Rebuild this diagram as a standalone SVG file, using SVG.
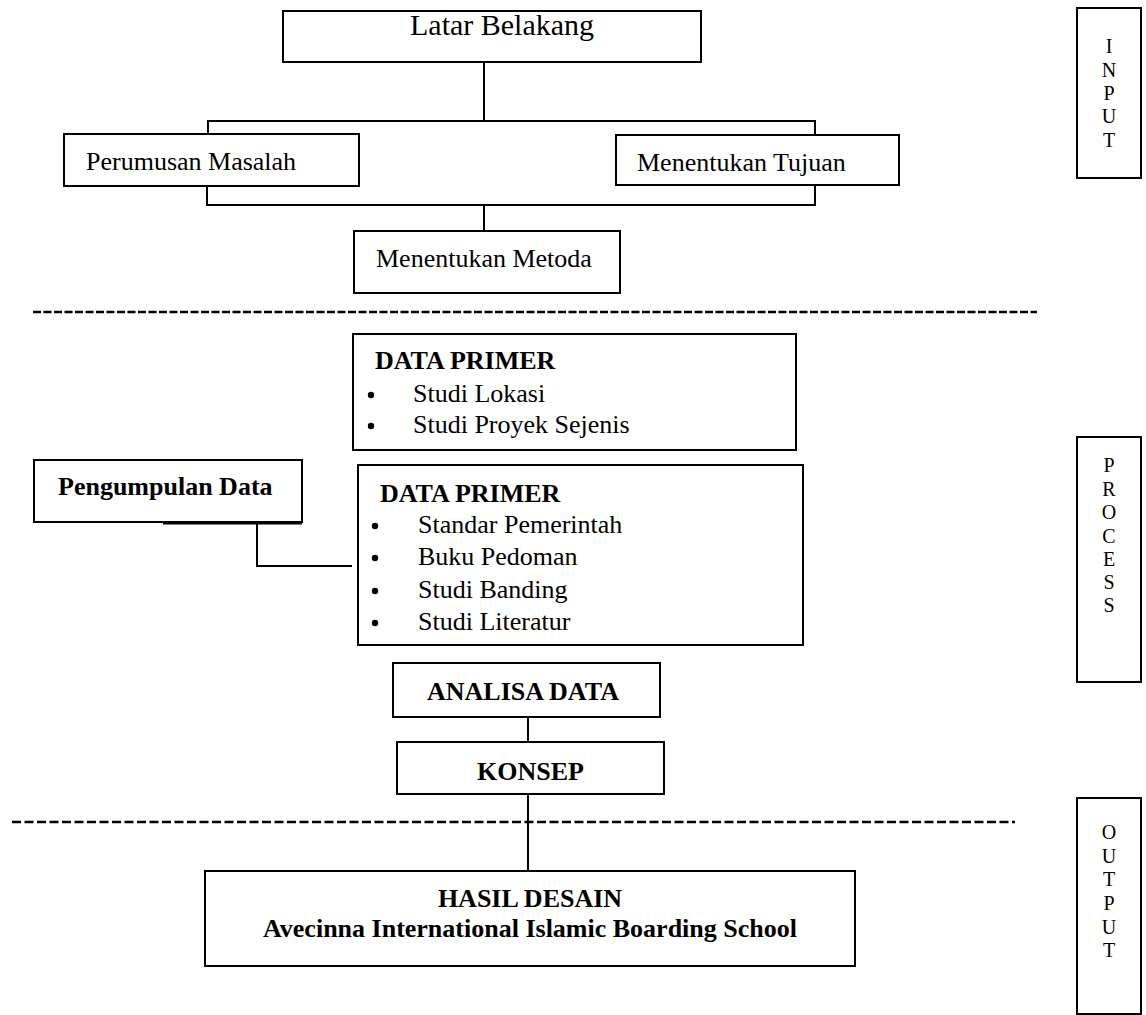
<svg xmlns="http://www.w3.org/2000/svg" width="1146" height="1015" viewBox="0 0 1146 1015">
<style>
  .box { fill: #ffffff; stroke: #000000; stroke-width: 2; }
  .conn { fill: none; stroke: #000000; stroke-width: 2; }
  .dash { fill: none; stroke: #000000; stroke-width: 2.5; }
  .t { font-family: "Liberation Serif", "Times New Roman", serif; font-size: 26px; fill: #000000; }
  .big { font-size: 30px; }
  .b { font-weight: bold; }
  .side { font-family: "Liberation Serif", "Times New Roman", serif; font-size: 20px; fill: #000000; text-anchor: middle; }
  .bul { fill: #000000; }
</style>
<rect width="1146" height="1015" fill="#ffffff"/>

<g id="connectors">
  <line class="conn" x1="484" y1="62" x2="484" y2="121"/>
  <polyline class="conn" points="208,134 208,121 815,121 815,135"/>
  <polyline class="conn" points="207,186 207,205 815,205 815,185"/>
  <line class="conn" x1="484" y1="205" x2="484" y2="231"/>
  <polyline class="conn" points="257,522 257,566 352,566"/>
  <line class="conn" x1="163" y1="523.5" x2="302" y2="523.5" stroke-width="4"/>
  <line class="conn" x1="528" y1="717" x2="528" y2="742"/>
  <line class="conn" x1="528" y1="794" x2="528" y2="871"/>
  <line class="dash" x1="33" y1="312" x2="1037" y2="312" stroke-dasharray="8 2.5"/>
  <line class="dash" x1="12" y1="822" x2="1015" y2="822" stroke-dasharray="9 3.5"/>
</g>

<g id="latar-belakang">
  <rect class="box" x="283" y="11" width="418" height="51"/>
  <text class="t big" x="410" y="35">Latar Belakang</text>
</g>

<g id="perumusan-masalah">
  <rect class="box" x="64" y="134" width="295" height="52"/>
  <text class="t" x="86" y="170">Perumusan Masalah</text>
</g>

<g id="menentukan-tujuan">
  <rect class="box" x="616" y="135" width="283" height="50"/>
  <text class="t" x="637" y="171">Menentukan Tujuan</text>
</g>

<g id="menentukan-metoda">
  <rect class="box" x="354" y="231" width="266" height="62"/>
  <text class="t" x="376" y="267">Menentukan Metoda</text>
</g>

<g id="data-primer-1">
  <rect class="box" x="353" y="334" width="443" height="116"/>
  <text class="t b" x="375" y="369">DATA PRIMER</text>
  <circle class="bul" cx="371" cy="395" r="3.2"/>
  <text class="t" x="413" y="402">Studi Lokasi</text>
  <circle class="bul" cx="371" cy="426" r="3.2"/>
  <text class="t" x="413" y="433">Studi Proyek Sejenis</text>
</g>

<g id="pengumpulan-data">
  <rect class="box" x="34" y="460" width="268" height="62"/>
  <text class="t b" x="58" y="495">Pengumpulan Data</text>
</g>

<g id="data-primer-2">
  <rect class="box" x="358" y="465" width="445" height="180"/>
  <text class="t b" x="380" y="502">DATA PRIMER</text>
  <circle class="bul" cx="375" cy="526" r="3.2"/>
  <text class="t" x="418" y="533">Standar Pemerintah</text>
  <circle class="bul" cx="375" cy="558" r="3.2"/>
  <text class="t" x="418" y="565">Buku Pedoman</text>
  <circle class="bul" cx="375" cy="591" r="3.2"/>
  <text class="t" x="418" y="598">Studi Banding</text>
  <circle class="bul" cx="375" cy="623" r="3.2"/>
  <text class="t" x="418" y="630">Studi Literatur</text>
</g>

<g id="analisa-data">
  <rect class="box" x="393" y="663" width="267" height="54"/>
  <text class="t b" x="427" y="700">ANALISA DATA</text>
</g>

<g id="konsep">
  <rect class="box" x="397" y="742" width="267" height="52"/>
  <text class="t b" x="477" y="780">KONSEP</text>
</g>

<g id="hasil-desain">
  <rect class="box" x="205" y="871" width="650" height="95"/>
  <text class="t b" x="530" y="907" text-anchor="middle">HASIL DESAIN</text>
  <text class="t b" x="530" y="937" text-anchor="middle">Avecinna International Islamic Boarding School</text>
</g>

<g id="input">
  <rect class="box" x="1077" y="8" width="64" height="170"/>
  <text class="side" x="1109" y="53">I</text>
  <text class="side" x="1109" y="77">N</text>
  <text class="side" x="1109" y="100">P</text>
  <text class="side" x="1109" y="123">U</text>
  <text class="side" x="1109" y="147">T</text>
</g>

<g id="process">
  <rect class="box" x="1077" y="437" width="64" height="245"/>
  <text class="side" x="1109" y="472">P</text>
  <text class="side" x="1109" y="496">R</text>
  <text class="side" x="1109" y="519">O</text>
  <text class="side" x="1109" y="543">C</text>
  <text class="side" x="1109" y="566">E</text>
  <text class="side" x="1109" y="589">S</text>
  <text class="side" x="1109" y="612">S</text>
</g>

<g id="output">
  <rect class="box" x="1077" y="798" width="64" height="216"/>
  <text class="side" x="1109" y="839">O</text>
  <text class="side" x="1109" y="863">U</text>
  <text class="side" x="1109" y="886">T</text>
  <text class="side" x="1109" y="910">P</text>
  <text class="side" x="1109" y="934">U</text>
  <text class="side" x="1109" y="957">T</text>
</g>
</svg>
